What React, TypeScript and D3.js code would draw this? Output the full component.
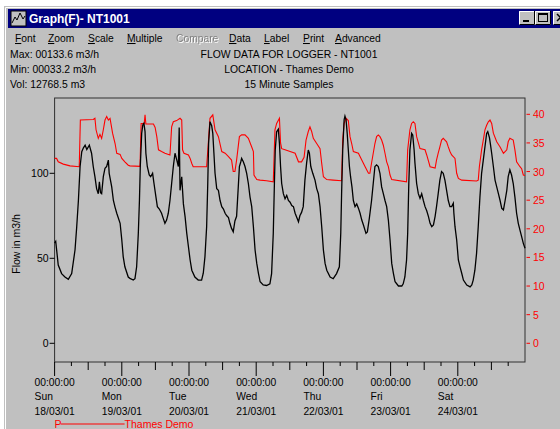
import React from 'react';
import * as d3 from 'd3';

// ---- data ----
const flowHours = [
  0, 0.4, 1.3, 2.5, 3.7, 4.9, 6.1, 7.3, 7.9, 8.5, 9.1, 9.7, 10.3, 10.9, 11.5, 12.4, 13.2, 13.8, 14.4, 15.0, 15.6, 16.0, 16.4, 16.8, 17.4, 18.0, 18.6, 19.2, 19.5, 20.4, 21.0, 21.6, 22.2, 23.4, 24.0, 24.5, 25.1, 26.3, 26.9,
  28.1, 28.7, 29.3, 29.9, 30.3, 30.6, 31.1, 31.5, 31.9, 32.3, 32.6, 33.1, 33.8, 34.3, 35.0, 35.5, 36.2, 36.7, 37.4, 38.2, 38.8, 39.4, 40.0, 40.6, 41.2, 41.8, 42.4, 43.0, 43.6, 44.2, 44.5, 44.8, 45.4, 46.0, 46.6, 47.2, 47.8, 48.4, 49.0, 50.1, 51.3, 52.5, 53.1, 53.7, 54.3, 54.7, 55.0,
  55.5, 56.1, 56.5, 56.9, 57.3, 57.9, 58.5, 59.1, 59.7, 60.3, 60.9, 61.5, 62.1, 62.6, 63.2, 63.8, 64.4, 65.0, 65.6, 66.0, 66.5, 66.8, 67.4, 68.0, 68.6, 69.2, 69.8, 70.4, 71.0, 71.6, 72.2, 72.8, 73.4, 74.5, 75.7, 76.9, 77.5, 78.1, 78.5, 78.8, 79.3, 79.9, 80.3, 80.7, 81.1, 81.7, 82.3, 82.9, 83.5, 84.1,
  84.7, 85.3, 85.9, 86.5, 87.1, 87.6, 88.2, 88.8, 89.4, 90.0, 90.6, 91.0, 91.5, 92.2, 93.0, 93.6, 94.2, 94.8, 95.4, 96.0, 96.6, 97.2, 98.4, 99.5, 100.7, 101.7, 102.2, 102.5, 102.9, 103.4, 103.7, 104.1, 104.5, 104.9, 105.3, 105.7, 106.2, 106.7, 107.3, 107.9, 108.5, 109.1, 109.7, 110.3, 111.2, 111.7, 112.4,
  113.2, 113.8, 114.4, 115.0, 115.6, 116.2, 116.8, 117.4, 118.0, 118.6, 119.2, 119.8, 120.4, 121.0, 121.6, 122.8, 124.0, 124.5, 125.1, 125.7, 126.1, 126.5, 126.9, 127.5, 127.9, 128.4, 128.7, 129.3, 129.9, 130.5, 131.1, 131.7, 132.3, 132.9, 133.5, 134.1, 134.7, 135.3, 135.9, 136.4, 137.0, 137.6, 138.2, 138.8, 139.4, 140.0, 140.6, 141.2,
  141.8, 142.4, 142.6, 143.0, 143.6, 144.2, 144.8, 145.4, 146.0, 147.2, 148.4, 149.0, 149.5, 150.1, 150.7, 151.3, 151.9, 152.5, 153.1, 153.7, 154.3, 154.7, 155.3, 155.7, 156.1, 156.7, 157.3, 157.9, 158.5, 159.1, 159.7, 160.3, 160.9, 161.5, 162.0, 162.6, 163.2, 163.8, 164.4, 165.0, 165.6, 166.2, 166.8, 167.4, 168.0,
];
const flowValues = [
  59, 60, 46, 41, 39, 37.6, 41, 55, 68.6, 84, 104, 112.7, 115, 116.6, 114, 116.6, 111.8, 104, 98, 91, 88, 95, 88.6, 88, 98, 103, 104, 107.8, 100, 92, 84, 80, 76.5, 70.6, 60.8, 51, 45, 39, 38.2,
  37.2, 38, 45, 64.7, 84, 104, 123.5, 128.4, 129.4, 124.5, 111.8, 104, 99, 98, 100, 94, 86, 80.4, 79, 76.5, 73.5, 70.6, 72.5, 76.5, 84, 94, 104, 111.8, 108, 104, 127, 90, 98, 82, 74.5, 64.7, 56.8, 49, 43, 39, 37.2, 37.2, 41.2, 51, 68.6, 94, 117.6,
  130.4, 128, 123.5, 111.8, 100, 91, 90, 84, 80.4, 79, 76.5, 75, 74, 70.6, 67.6, 65.6, 72, 74.7, 92, 104, 106.8, 108.8, 106.8, 104, 100, 94, 86, 80.4, 68.6, 54.9, 47, 41.2, 36.2, 34.3, 34, 35, 41, 64.7, 94, 113.7, 124.5, 126, 117.6, 104, 94, 88, 85, 87, 84, 83,
  81, 80.4, 76.5, 74, 71.5, 75, 77, 80.4, 96, 106, 113.7, 111.8, 104, 100, 96, 91, 88, 80.4, 68.6, 54.9, 47, 43, 39, 38, 41, 45, 64.7, 88, 113.7, 131.4, 133.6, 131.4, 123.5, 113.7, 104, 98, 92, 84, 80.4, 82, 79.5, 76.5, 72.5, 69.6, 64.7, 65.5, 73.5,
  84, 94, 104, 105, 104, 100, 92, 88, 84, 80.4, 72.5, 60.8, 47, 41.2, 36.2, 33.7, 33.7, 35, 39, 49, 64.7, 94, 113.7, 123.5, 122.5, 113.7, 106, 94, 88, 85.3, 88, 84, 80.4, 78, 74.7, 70.6, 68.6, 69.6, 74.7, 80.4, 88, 96, 101, 100, 96, 90, 84, 80.4,
  80.4, 82.4, 76.5, 68.6, 60.8, 49, 45, 41.2, 37.2, 34.3, 33.2, 34.3, 37.2, 43, 52.9, 68.6, 86, 100, 107.8, 115.6, 123.5, 124.5, 121, 116.6, 111.8, 104, 96, 92, 88, 84, 79.4, 78.5, 84, 90, 98, 102, 99, 94, 86, 76.5, 70.6, 66.6, 62.7, 58.8, 55.9,
];
const pressureHours = [
  0, 0.7, 1.3, 3.1, 5.5, 8.8, 9.2, 13.8, 14.4, 14.8, 15.6, 16.2, 16.8, 17.4, 18.0, 18.6, 19.2, 19.8, 20.4, 20.7, 21.6, 22.2, 23.4, 24.0, 25.1, 26.3,
  26.9, 30.5, 30.9, 32.0, 32.3, 32.6, 35.3, 35.9, 36.5, 37.1, 38.2, 39.4, 41.2, 41.8, 42.4, 43.6, 44.8, 45.4, 45.7, 46.2, 47.8, 48.4, 49.0, 49.5, 54.3, 54.9,
  55.5, 56.5, 57.3, 58.5, 59.7, 60.9, 62.1, 63.2, 63.8, 64.4, 65.0, 66.0, 66.8, 68.0, 69.2, 70.4, 71.0, 71.2, 72.2, 73.4, 75.7, 78.1, 78.7, 79.3, 80.3, 80.7, 81.1, 82.3, 84.1,
  85.9, 87.1, 88.2, 89.1, 89.8, 90.6, 91.2, 91.8, 92.4, 93.6, 94.8, 95.4, 96.0, 97.2, 99.5, 102.5, 102.9, 103.4, 104.1, 104.9, 105.5, 106.1, 106.7, 108.5, 109.7, 110.9, 112.1,
  112.6, 113.2, 113.8, 114.4, 115.0, 115.6, 116.2, 116.8, 117.4, 118.0, 118.6, 119.2, 119.8, 120.4, 125.7, 126.1, 126.9, 127.5, 128.1, 128.7, 129.3, 130.5, 132.3, 132.9, 134.1, 135.9, 136.4, 137.0, 137.6, 138.2, 138.8, 140.0, 140.6, 141.2,
  141.8, 143.0, 143.6, 144.2, 145.4, 150.7, 151.3, 151.7, 152.5, 153.1, 153.7, 154.3, 154.9, 155.5, 156.1, 156.7, 157.9, 159.1, 160.3, 160.9, 161.5, 162.0, 162.6, 163.8, 164.4, 165.0, 166.2, 166.8, 167.4, 168.0,
];
const pressureValues = [
  32.3, 32.3, 31.7, 31.3, 31.0, 30.85, 39, 39.1, 39.3, 37.3, 35.8, 36.5, 35.8, 37.3, 39, 39.6, 39, 39.3, 37.6, 36.7, 34.9, 33.2, 33, 32.3, 31.7, 31.1,
  31, 30.9, 38.4, 38.4, 39.9, 38.3, 38.3, 37.7, 36.1, 33.8, 33.5, 33.2, 32.9, 37.8, 38.7, 38.9, 39.3, 39, 33.8, 33.2, 32.9, 32.3, 31.4, 30.85, 30.85, 35,
  39.3, 39.9, 37.3, 36.1, 33.5, 33.2, 32.6, 32, 30, 30, 32, 36.1, 36.4, 36.4, 35.8, 34.3, 33.5, 29.4, 28.6, 28.5, 28.4, 28.2, 37.3, 38.4, 39.3, 35, 34, 33.8, 33.5,
  33.2, 31.7, 31.7, 32.5, 35.5, 37, 37.8, 37, 35.8, 34.9, 34, 31.4, 29.1, 28.6, 28.5, 28.4, 35.5, 38.4, 39.3, 38.9, 36.1, 34.9, 33.5, 33.2, 32, 30.85, 29.7,
  29.7, 31.5, 33.2, 34.9, 36.1, 36.4, 36.1, 35.5, 34.6, 33.2, 31.7, 30.85, 29.4, 28.6, 28.2, 33.8, 37.3, 38.4, 38.7, 38.4, 36.1, 34, 33.8, 32.9, 30.85, 30.6, 32, 33.2, 34.3, 35.5, 35.8, 35.2, 34.3, 33.5,
  32.9, 32.3, 29.7, 28.8, 28.5, 28.35, 28.5, 30.85, 33.8, 35.5, 37.3, 38.1, 38.7, 39, 38.4, 36.7, 35.2, 34.3, 33.2, 33.5, 33.8, 35.2, 35.8, 35.5, 33.8, 31.7, 30.85, 30.5, 29.4, 29.3,
];
const dayNames = ['Sun', 'Mon', 'Tue', 'Wed', 'Thu', 'Fri', 'Sat'];
const dayDates = ['18/03/01', '19/03/01', '20/03/01', '21/03/01', '22/03/01', '23/03/01', '24/03/01'];
const dayTime = '00:00:00';
const flowTicks = [0, 50, 100];
const pressureTicks = [0, 5, 10, 15, 20, 25, 30, 35, 40];
const menuItems = ['Font', 'Zoom', 'Scale', 'Multiple', 'Compare', 'Data', 'Label', 'Print', 'Advanced'];
const infoLines = ['Max: 00133.6 m3/h', 'Min: 00033.2 m3/h', 'Vol: 12768.5 m3'];
const titleLines = ['FLOW DATA FOR LOGGER - NT1001', 'LOCATION - Thames Demo', '15 Minute Samples'];
const windowTitle = 'Graph(F)- NT1001';
const seriesName = 'Thames Demo';
const yAxisTitle = 'Flow in m3/h';

const W = 560;
const H = 429;
const FONT = '"Liberation Sans", Arial, sans-serif';
const GREY = '#c0c0c0';

export default function App() {
  const plot = { left: 54.6, right: 525, top: 98, bottom: 362 };
  const x = d3.scaleLinear().domain([0, 168]).range([plot.left, plot.right]);
  const yL = d3.scaleLinear().domain([-11, 144.3]).range([plot.bottom, plot.top]);
  const yR = d3.scaleLinear().domain([-3.27, 42.85]).range([plot.bottom, plot.top]);

  const flowLine = d3
    .line<number>()
    .x((_, i) => x(flowHours[i]))
    .y((d) => yL(d))
    .curve(d3.curveLinear);
  const presLine = d3
    .line<number>()
    .x((_, i) => x(pressureHours[i]))
    .y((d) => yR(d))
    .curve(d3.curveLinear);

  const hourTicks = d3.range(0, 168, 6);
  const menuX = [15, 48, 88, 127, 176, 229, 264, 303, 335];

  return (
    <svg
      width={W}
      height={H}
      style={{ position: 'absolute', left: 0, top: 0, fontFamily: FONT }}
    >
      <defs>
        <filter id="emboss" x="-5%" y="-20%" width="115%" height="150%">
          <feOffset in="SourceAlpha" dx="1" dy="1" result="off" />
          <feFlood floodColor="#ffffff" result="white" />
          <feComposite in="white" in2="off" operator="in" result="shadow" />
          <feMerge>
            <feMergeNode in="shadow" />
            <feMergeNode in="SourceGraphic" />
          </feMerge>
        </filter>
      </defs>
      {/* desktop + window frame */}
      <rect x={0} y={0} width={W} height={H} fill="#ffffff" />
      <rect x={4} y={6} width={W} height={H} fill={GREY} />
      <line x1={5.5} y1={7.5} x2={W} y2={7.5} stroke="#ffffff" />
      <line x1={5.5} y1={7.5} x2={5.5} y2={H} stroke="#ffffff" />
      {/* title bar */}
      <rect x={8} y={9} width={W} height={19} fill="#000080" />
      <g>
        <rect x={11} y={11} width={15} height={15} fill={GREY} stroke="#000" strokeWidth={1} />
        <polyline points="12,23 15,17 17,20 20,13 23,19 25,16" fill="none" stroke="#000" strokeWidth={1} />
      </g>
      <text x={29} y={23} fill="#fff" fontSize={12} fontWeight="bold">{windowTitle}</text>
      {[519, 535, 553].map((bx, i) => (
        <g key={i}>
          <rect x={bx} y={11} width={16} height={14} fill={GREY} />
          <path d={`M${bx + 0.5},${25} V${11.5} H${bx + 16}`} stroke="#fff" fill="none" />
          <path d={`M${bx + 0.5},${24.5} H${bx + 15.5} V${11}`} stroke="#000" fill="none" />
          {i === 0 && <rect x={bx + 4} y={20} width={6} height={2} fill="#000" />}
          {i === 1 && <rect x={bx + 3.5} y={13.5} width={9} height={8} fill="none" stroke="#000" strokeWidth={1} />}
          {i === 1 && <line x1={bx + 3.5} y1={14.5} x2={bx + 12.5} y2={14.5} stroke="#000" />}
          {i === 2 && <path d={`M${bx + 4},${14} L${bx + 11},${21} M${bx + 11},${14} L${bx + 4},${21}`} stroke="#000" strokeWidth={1.5} />}
        </g>
      ))}

      {/* menu bar */}
      {menuItems.map((m, i) => {
        const disabled = m === 'Compare';
        return (
          <text
            key={m}
            x={menuX[i]}
            y={42}
            fontSize={10.3}
            fill={disabled ? '#808080' : '#000'}
            filter={disabled ? 'url(#emboss)' : undefined}
          >
            <tspan textDecoration={disabled ? 'none' : 'underline'}>{m[0]}</tspan>
            {m.slice(1)}
          </text>
        );
      })}

      {/* info text */}
      {infoLines.map((t, i) => (
        <text key={t} x={10} y={58 + i * 15} fontSize={10.4} fill="#000">{t}</text>
      ))}
      {titleLines.map((t, i) => (
        <text key={t} x={289} y={58 + i * 15} fontSize={10.4} fill="#000" textAnchor="middle">{t}</text>
      ))}

      {/* plot frame */}
      <rect
        x={plot.left}
        y={plot.top}
        width={plot.right - plot.left}
        height={plot.bottom - plot.top}
        fill={GREY}
        stroke="#303030"
        strokeWidth={1}
      />

      {/* left axis */}
      {flowTicks.map((v) => (
        <g key={v}>
          <line x1={plot.left - 5} x2={plot.left} y1={yL(v)} y2={yL(v)} stroke="#000" />
          <text x={plot.left - 6} y={yL(v) + 4} fontSize={10.5} textAnchor="end" fill="#000">{v}</text>
        </g>
      ))}
      <text
        transform={`translate(20, 244) rotate(-90)`}
        fontSize={10.5}
        textAnchor="middle"
        fill="#000"
      >
        {yAxisTitle}
      </text>

      {/* right axis */}
      {pressureTicks.map((v) => (
        <g key={v}>
          <line x1={plot.right + 1.5} x2={plot.right + 5} y1={yR(v)} y2={yR(v)} stroke="#ff0000" />
          <text x={plot.right + 8} y={yR(v) + 4} fontSize={10.5} fill="#ff0000">{v}</text>
        </g>
      ))}

      {/* x axis ticks */}
      {hourTicks.map((h) => {
        const len = h % 24 === 0 ? 14 : h % 12 === 0 ? 8 : 4;
        return <line key={h} x1={x(h)} x2={x(h)} y1={plot.bottom} y2={plot.bottom + len} stroke="#000" />;
      })}
      {dayNames.map((d, i) => {
        const cx = x(i * 24);
        return (
          <g key={d} fontSize={10.3} fill="#000">
            <text x={cx} y={386} textAnchor="middle">{dayTime}</text>
            <text x={cx - 20} y={400}>{d}</text>
            <text x={cx - 20} y={415}>{dayDates[i]}</text>
          </g>
        );
      })}

      {/* series */}
      <path d={presLine(pressureValues) || ''} fill="none" stroke="#ff0000" strokeWidth={1.1} />
      <path d={flowLine(flowValues) || ''} fill="none" stroke="#000" strokeWidth={1.3} />

      {/* legend */}
      <g fill="#ff0000" fontSize={10.5}>
        <text x={plot.left} y={428}>P</text>
        <line x1={plot.left + 6} x2={plot.left + 70} y1={424} y2={424} stroke="#ff0000" />
        <text x={plot.left + 70} y={428}>{seriesName}</text>
      </g>
    </svg>
  );
}
